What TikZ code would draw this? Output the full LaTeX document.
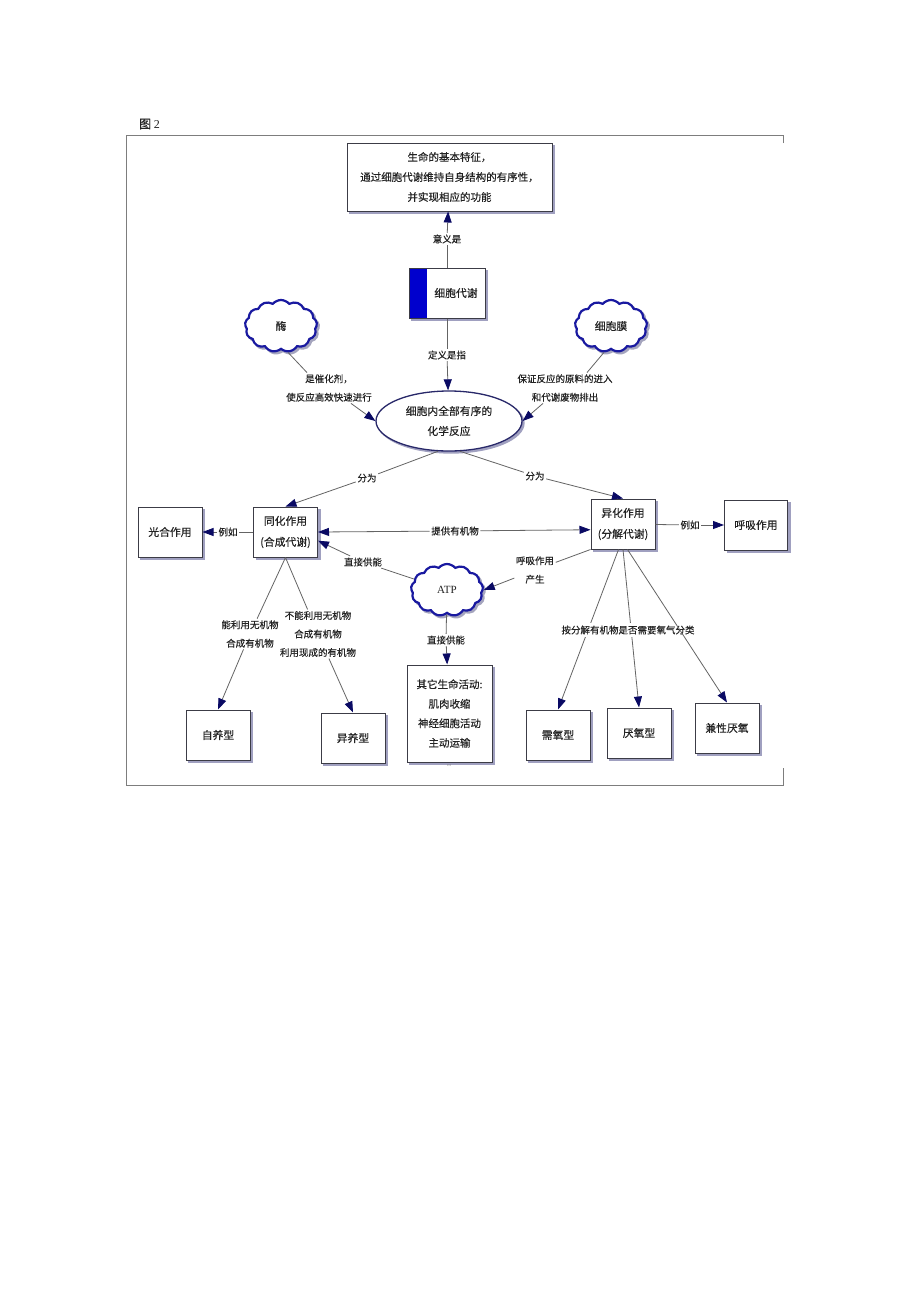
\documentclass[tikz,border=0pt]{standalone}
\usepackage{fontspec}
\setmainfont{Noto Sans CJK SC}[FakeBold=0.3]
\newfontfamily\serifen{Liberation Serif}
\usetikzlibrary{positioning,arrows.meta,shapes.geometric,shapes.symbols,shadows}
\definecolor{boxline}{RGB}{60,60,70}
\definecolor{shadowgray}{RGB}{160,160,192}
\definecolor{cloudblue}{RGB}{25,25,160}
\definecolor{cloudshadow}{RGB}{165,165,190}
\definecolor{ellipseblue}{RGB}{40,40,105}
\definecolor{barblue}{RGB}{0,0,205}
\definecolor{linegray}{RGB}{100,100,100}
\definecolor{tipblue}{RGB}{10,10,100}
\definecolor{framegray}{RGB}{125,125,125}
\definecolor{inkgray}{RGB}{35,35,35}

\begin{document}
\begin{tikzpicture}[x=1pt, y=-1pt, text=inkgray,
    box/.style={rectangle, draw=boxline, line width=1pt, fill=white, align=center,
        minimum width=64pt, minimum height=50pt, inner sep=1pt,
        font=\fontsize{10.8}{21}\selectfont,
        copy shadow={shadow xshift=2.5pt, shadow yshift=-2.5pt, draw=shadowgray, fill=shadowgray}},
    puff/.style={cloud, cloud puffs=13, cloud puff arc=100, cloud ignores aspect, draw=cloudblue,
        line width=2.2pt, fill=white, minimum width=72pt, minimum height=52pt, inner sep=0pt,
        font=\fontsize{10.8}{13}\selectfont,
        copy shadow={shadow xshift=2pt, shadow yshift=-2pt, draw=cloudshadow, fill=cloudshadow}},
    lbl/.style={align=center, inner sep=1.5pt, font=\fontsize{9.5}{18.5}\selectfont},
    link/.style={draw=linegray, line width=0.8pt},
    arr/.style={link, -{Triangle[length=11pt, width=8pt, color=tipblue]}},
    ]
    \fill[white] (0,0) rectangle (920,1301);
    \useasboundingbox (0,0) rectangle (920,1301);

    %% caption and frame
    \node[anchor=west, inner sep=0pt, font=\fontsize{12}{14}\selectfont] (caption) at (139,124) {图 {\serifen 2}};
    \draw[framegray, line width=0.8pt] (783,143) -- (783,135) -- (126,135) -- (126,785) -- (783,785) -- (783,768);

    %% top part
    \node[box, minimum width=205pt, minimum height=68pt, font=\fontsize{10.5}{20}\selectfont] (top) at (449.5,177)
        {生命的基本特征，\\通过细胞代谢维持自身结构的有序性，\\并实现相应的功能};
    \node[box, minimum width=76pt, minimum height=50pt,
        path picture={\fill[barblue] (path picture bounding box.north west) rectangle ([xshift=18pt]path picture bounding box.south west);}]
        (met) at (447,293) {\hspace*{18pt}细胞代谢};
    \node[ellipse, draw=ellipseblue, line width=1.3pt, fill=white, minimum width=146pt, minimum height=60pt,
        inner sep=0pt, align=center, font=\fontsize{10.8}{20}\selectfont,
        copy shadow={shadow xshift=2pt, shadow yshift=-2pt, draw=shadowgray, fill=shadowgray}]
        (react) at (449,421) {细胞内全部有序的\\化学反应};

    %% clouds
    \node[puff] (enzyme) at (281,326) {酶};
    \node[puff] (membrane) at (611,326) {细胞膜};
    \node[puff, font=\serifen\fontsize{11}{13}\selectfont] (atp) at (447,590) {ATP};

    %% second row and bottom boxes
    \node[box] (photo) at (170,532) {光合作用};
    \node[box] (anab) at (285.5,532) {同化作用\\(合成代谢)};
    \node[box] (catab) at (623,524) {异化作用\\(分解代谢)};
    \node[box, minimum width=63pt] (resp) at (756,525) {呼吸作用};
    \node[box, minimum width=85pt, minimum height=97pt, font=\fontsize{10.5}{19.5}\selectfont] (life) at (449.5,713.5)
        {其它生命活动:\\肌肉收缩\\神经细胞活动\\主动运输};
    \node[font=\fontsize{5}{5}\selectfont, inner sep=0pt, text=linegray] (more) at (449,765) {...};
    \node[box] (auto) at (218,735) {自养型};
    \node[box] (hetero) at (353,738) {异养型};
    \node[box] (aerobe) at (558,735) {需氧型};
    \node[box] (anaerobe) at (639,733) {厌氧型};
    \node[box] (facult) at (727,728) {兼性厌氧};

    %% labels
    \node[lbl] (meaning) at (447,239) {意义是};
    \node[lbl] (definition) at (447,355) {定义是指};
    \node[lbl] (catalyst) at (329,388) {是催化剂，\\使反应高效快速进行};
    \node[lbl] (transport) at (565,388) {保证反应的原料的进入\\和代谢废物排出};
    \node[lbl] (splitL) at (367,478) {分为};
    \node[lbl] (splitR) at (535,476) {分为};
    \node[lbl] (egL) at (228,532) {例如};
    \node[lbl] (egR) at (690,525) {例如};
    \node[lbl] (organic) at (455,531) {提供有机物};
    \node[lbl] (supplyL) at (363,562) {直接供能};
    \node[lbl] (produce) at (535,570) {呼吸作用\\产生};
    \node[lbl] (supplyD) at (446,640) {直接供能};
    \node[lbl] (autolbl) at (250,634) {能利用无机物\\合成有机物};
    \node[lbl] (heterolbl) at (318,634) {不能利用无机物\\合成有机物\\利用现成的有机物};

    %% connectors
    % meaning and definition
    \draw[link] (met) -- (meaning);
    \draw[arr]  (meaning) -- (top);
    \draw[link] (met) -- (definition);
    \draw[arr]  (definition) -- (react);
    % clouds to reaction
    \draw[link] (enzyme.285) -- (catalyst.145);
    \draw[arr]  (catalyst.325) -- (react.west);
    \draw[link] (membrane.255) -- (transport.35);
    \draw[arr]  (transport.215) -- (react.east);
    % split into two
    \draw[link] (react.250) -- (splitL);
    \draw[arr]  (splitL) -- (anab.north);
    \draw[link] (react.290) -- (splitR);
    \draw[arr]  (splitR) -- (catab.north);
    % examples
    \draw[link] (anab) -- (egL);
    \draw[arr]  (egL) -- (photo);
    \draw[link] (catab) -- (egR);
    \draw[arr]  (egR) -- (resp);
    % organic matter both ways
    \draw[arr]  (organic) -- (anab.east);
    \draw[arr]  (organic) -- (catab.190);
    % ATP
    \draw[link] (catab.south west) -- (produce);
    \draw[arr]  (produce) -- (atp.east);
    \draw[link] (atp) -- (supplyL);
    \draw[arr]  (supplyL) -- (anab.345);
    \draw[link] (atp) -- (supplyD);
    \draw[arr]  (supplyD) -- (life);
    % autotroph / heterotroph
    \draw[link] (anab.south) -- (autolbl);
    \draw[arr]  (autolbl) -- (auto.north);
    \draw[link] (anab.south) -- (heterolbl);
    \draw[arr]  (heterolbl) -- (hetero.north);
    % oxygen types
    \draw[arr]  (catab.260) -- (aerobe.north);
    \draw[arr]  (catab.270) -- (anaerobe.north);
    \node[lbl, fill=white, inner sep=3pt] (oxylbl) at (628,630) {按分解有机物是否需要氧气分类};
    \draw[arr]  (catab.280) -- (facult.north);

\end{tikzpicture}
\end{document}
